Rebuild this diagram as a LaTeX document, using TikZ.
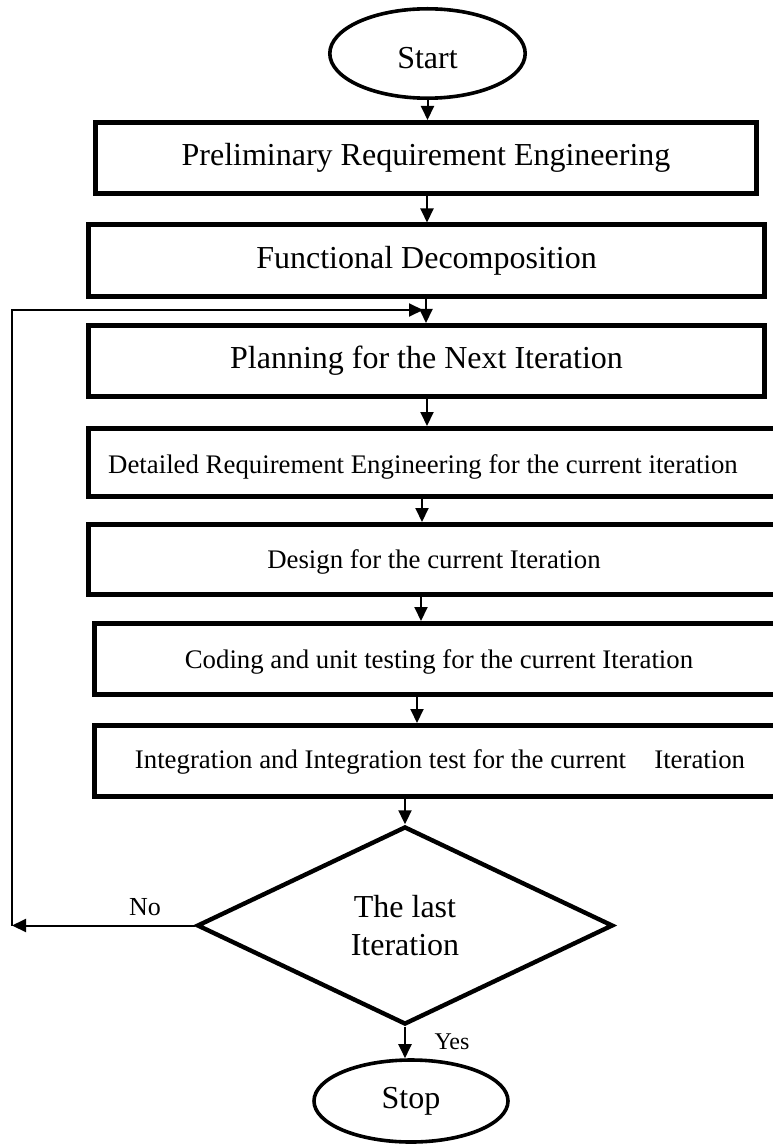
\documentclass[tikz,border=0pt]{standalone}
\usepackage{fontspec}
\setmainfont{Liberation Serif}
\usetikzlibrary{shapes.geometric,arrows.meta}
\tikzset{stepbox/.style={draw, rectangle, line width=2.5pt, inner sep=0pt},
 terminal/.style={draw, ellipse, line width=1.8pt, inner sep=0pt, font=\fontsize{16}{19.5}\selectfont},
 decision/.style={draw, diamond, line width=2.2pt, inner sep=0pt, align=center,
   minimum width=208pt, minimum height=99pt, font=\fontsize{16}{19}\selectfont},
 bigtext/.style={font=\fontsize{16}{19.5}\selectfont},
 smalltext/.style={anchor=base, font=\fontsize{13.4}{16}\selectfont},
 flow/.style={draw, line width=1pt, -{Triangle[length=7pt,width=6.5pt]}},
 }

\begin{document}
\begin{tikzpicture}[x=0.5pt,y=-0.5pt]
        \useasboundingbox (0,0) rectangle (772,1144);
        \node[terminal, minimum width=97.7pt, minimum height=44.7pt, text height=15pt, text depth=0pt] (start) at (427.5,53.5) {Start};
        \node[stepbox, bigtext, minimum width=330.5pt, minimum height=35.5pt] (prelim) at (426,158) {Preliminary Requirement Engineering};
        \node[stepbox, bigtext, minimum width=338pt, minimum height=36pt] (func) at (426.5,261) {Functional Decomposition};
        \node[stepbox, bigtext, minimum width=338pt, minimum height=35.5pt] (plan) at (426.5,361) {Planning for the Next Iteration};

        % the wide boxes run past the right edge
        \node[stepbox, minimum width=354.5pt, minimum height=34pt] (detail) at (443,462.5) {};
        \node[stepbox, minimum width=354.5pt, minimum height=35pt] (design) at (443,559.5) {};
        \node[stepbox, minimum width=351.5pt, minimum height=35.5pt] (coding) at (446,659) {};
        \node[stepbox, minimum width=351.5pt, minimum height=35.5pt] (integ) at (446,761) {};
        \node[smalltext] (detailtext) at (423,473) {Detailed Requirement Engineering for the current iteration};
        \node[smalltext] (designtext) at (434,568) {Design for the current Iteration};
        \node[smalltext] (codingtext) at (439,668) {Coding and unit testing for the current Iteration};
        \node[smalltext] (integtext) at (440,768) {Integration and Integration test for the current\hspace{0.8em} Iteration};

        \node[decision] (decide) at (405,925.5) {The last\\Iteration};
        \node[terminal, minimum width=97pt, minimum height=41pt] (stop) at (411,1101) {Stop};

        \draw[flow] (start.south) -- (start.south |- prelim.north);
        \foreach \a/\b/\x in {prelim/func/427, func/plan/426, plan/detail/427, detail/design/422, design/coding/421, coding/integ/417} {
            \draw[flow] (\a.south -| \x,0) -- (\b.north -| \x,0);
        }
        \draw[flow] (integ.south -| decide) -- (decide.north);
        \draw[flow] (decide.south) -- (decide.south |- stop.north);

        % back to the planning step
        \coordinate (back) at (12,925.5);
        \coordinate (loopin) at (423,310);
        \draw[flow] (decide.west) -- (back);
        \draw[flow] (back) |- (loopin);
        \node[font=\fontsize{13}{15}\selectfont] (nolabel) at (145,907) {No};
        \node[font=\fontsize{12}{14}\selectfont] (yeslabel) at (452,1042) {Yes};
    \end{tikzpicture}
\end{document}
